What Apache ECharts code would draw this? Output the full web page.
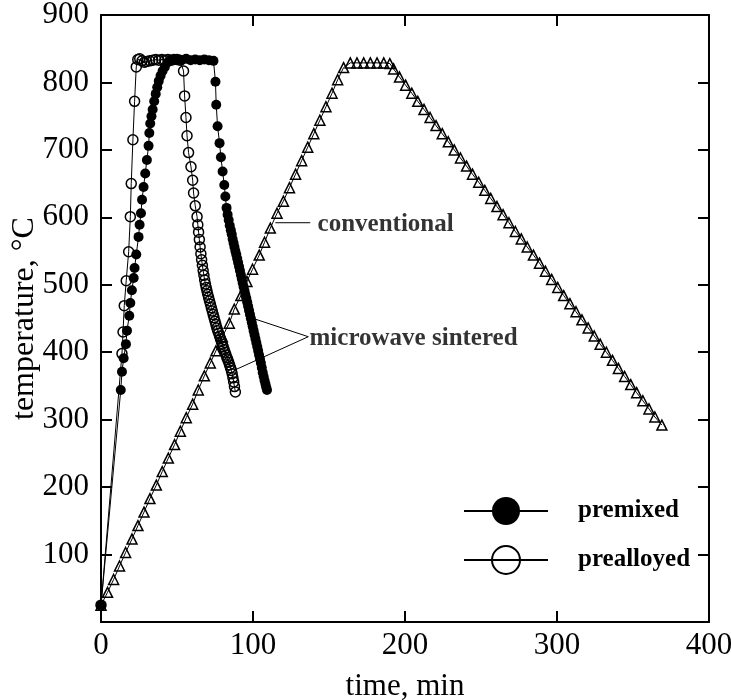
<!DOCTYPE html>
<html><head><meta charset="utf-8">
<script src="https://cdn.jsdelivr.net/npm/echarts@6/dist/echarts.min.js"></script>
<style>html,body{margin:0;padding:0;background:#fff}#c{width:731px;height:700px}</style>
</head><body><div id="c"></div>
<script>
// ---- data (time [min], temperature [°C]) ----
const xTickValues = [0, 100, 200, 300, 400];
const yTickValues = [0, 100, 200, 300, 400, 500, 600, 700, 800, 900];

const premixed = [
  [0,25],[13,344],[13.8,371],[14.9,391],[16.4,412],[17.1,432],[18.6,454],[19.3,473],[20.3,492],
  [21.5,510],[22.1,525],[23.2,545],[24.7,571],[25.4,589],[26.3,606],[27,626],[28,645],[29.1,665],
  [30.2,685],[31.3,706],[31.8,725],[32.4,739],[33.2,750],[34,760],[35,772],[36,783],[37,793],
  [38,802],[39.2,810],[40.5,817],[42,823],[44,830],[47,833],[50,834],[53,833],[56,835],[59,833],
  [62,834],[65,833],[68,834],[71,833],[74,832],
  [75.3,801],[75.8,767],[76.7,735],[78,710],[78.9,689],[80,668],[81.1,648],[81.8,631],[82.6,614],
  [83.3,604],[84,596],[84.7,588],[85.4,581],[86,575],[86.6,568],[87.2,562],[87.8,556],[88.4,550],
  [89,545],[89.6,539],[90.2,533],[90.8,527],[91.4,521],[92,515],[92.6,509],[93.2,503],[93.8,497],
  [94.4,491],[95,485],[95.6,480],[96.2,474],[96.8,468],[97.4,462],[98,456],[98.6,450],[99.2,444],
  [99.8,438],[100.4,432],[101,426],[101.6,420],[102.2,414],[102.8,408],[103.4,402],[104,396],
  [104.6,390],[105.2,384],[105.8,377],[106.4,370],[107,364],[107.6,358],[108.2,353],[108.7,348],[109.2,344]
];

const prealloyed = [
  [0,25],[13.8,398],[14.5,430],[15.3,469],[16.6,506],[18.2,549],[19.3,601],[19.9,650],[21,715],
  [22.1,772],[23.2,823],[24.2,834],[25.5,835],[27,832],[28.5,830],[30,831],[32,832],[34,833],
  [36,834],[38,833],[40,834],[42,833],[44,834],[46,833],[48,834],[50,834],[52,833],
  [54.3,817],[55,780],[55.9,748],[56.6,721],[57.6,696],[59.2,675],[60.3,655],[60.9,636],[62,617],
  [63.2,601],[63.7,589],[64.2,578],[64.7,567],[65.2,556],[65.7,546],[66.2,537],[66.7,529],[67.2,521],
  [67.7,514],[68.2,507],[68.7,501],[69.2,496],[69.7,491],[70.2,486],[70.8,481],[71.4,476],[72,471],
  [72.6,466],[73.2,461],[73.8,456],[74.4,451],[75,446],[75.6,441],[76.2,436],[76.8,432],[77.4,428],
  [78,424],[78.6,420],[79.2,416],[79.8,412],[80.4,408],[81,404],[81.6,400],[82.2,396],[82.8,392],
  [83.4,389],[84,385],[84.6,381],[85.2,377],[85.8,373],[86.3,368],[86.8,362],[87.3,356],[87.8,349],[88.4,341]
];

const conventional = [
  [0,25],[4.3,44],[8.3,63],[12.2,83],[16.2,103],[20.4,123],[24.3,143],[28.3,163],[32.2,183],
  [36.4,203],[40.3,223],[44.3,243],[48.4,263],[52.2,283],[56.1,303],[60.3,323],[64,344],[68,365],
  [71.9,384],[75.6,402],[79.8,423],[84.4,443],[87.7,464],[92,484],[96,505],[99.7,523],[104.1,544],
  [107.6,563],[111.4,584],[115.8,606],[120,624],[124,644],[128,664],[132,684],[136,704],[140,724],
  [144,744],[148,764],[152,784],[155.7,804],[159.6,822],[164,829],[168.4,829],[172.8,829],
  [177.2,829],[181.6,829],[186,829],[190,828],
  [192.5,820],[196.4,808],[200.4,796],[204.5,784],[208.4,772],[212.5,760],[216.5,748],[220.4,736],
  [224.5,724],[228.5,712],[232.4,700],[236.5,688],[240.5,676],[244.4,664],[248.5,652],[252.5,640],
  [256.4,628],[260.5,616],[264.5,604],[268.4,592],[272.6,579],[276.5,568],[280.4,556],[284.5,544],
  [288.5,532],[292.4,520],[296.5,508],[300.5,496],[304.4,484],[308.5,472],[312.5,460],[316.4,448],
  [320.5,436],[324.5,424],[328.4,412],[332.5,400],[336.5,388],[340.4,376],[344.5,364],[348.5,352],
  [352.4,340],[356.5,328],[360.5,316],[364.4,304],[369,292]
];

// annotation leaders and label anchors (data coordinates)
const convLeader = [[114.7,592],[137.7,592]];
const mwLeaderA = [[98.9,451],[136.4,423],[88.4,374]];
const annotations = [
  {text: 'conventional', at: [142.5,590]},
  {text: 'microwave sintered', at: [137.2,421]}
];

const FONT = '"Liberation Serif", "Times New Roman", serif';
const chart = echarts.init(document.getElementById('c'), null, {renderer: 'canvas'});

const axisLine = {show: true, onZero: false, lineStyle: {color: '#000', width: 2}};
const axisTick = {show: true, inside: true, length: 11, lineStyle: {color: '#000', width: 2}};

chart.setOption({
  animation: false,
  backgroundColor: '#fff',
  grid: {left: 101, right: 22, top: 15, bottom: 78, containLabel: false, outerBoundsMode: 'none'},
  legend: {
    data: ['premixed', 'prealloyed'],
    orient: 'vertical', left: 463, top: 497, padding: 0,
    itemWidth: 84, itemHeight: 35, itemGap: 20,
    textStyle: {fontFamily: FONT, fontWeight: 'bold', fontSize: 25, color: '#000', padding: [0, 0, 0, 25]},
    selectedMode: false
  },
  xAxis: [
    {type: 'value', min: 0, max: 400, interval: 100, position: 'bottom',
     name: 'time, min', nameLocation: 'middle', nameGap: 49, nameMoveOverlap: false,
     nameTextStyle: {fontFamily: FONT, fontSize: 31, color: '#000'},
     axisLine, axisTick, splitLine: {show: false},
     axisLabel: {fontFamily: FONT, fontSize: 31, color: '#000', margin: 8,
       formatter: v => xTickValues.includes(v) ? String(v) : ''}},
    {type: 'value', min: 0, max: 400, interval: 100, position: 'top',
     axisLine, axisTick, splitLine: {show: false}, axisLabel: {show: false}}
  ],
  yAxis: [
    {type: 'value', min: 0, max: 900, interval: 100, position: 'left',
     name: 'temperature, °C', nameLocation: 'middle', nameGap: 60, nameRotate: 90, nameMoveOverlap: false,
     nameTextStyle: {fontFamily: FONT, fontSize: 32, color: '#000'},
     axisLine, axisTick, splitLine: {show: false},
     axisLabel: {fontFamily: FONT, fontSize: 31, color: '#000', margin: 12,
       formatter: v => (v === 0) ? '' : (yTickValues.includes(v) ? String(v) : '')}},
    {type: 'value', min: 0, max: 900, interval: 100, position: 'right',
     axisLine, axisTick, splitLine: {show: false}, axisLabel: {show: false}}
  ],
  series: [
    {name: 'conventional', type: 'line', data: conventional, symbol: 'triangle', symbolSize: 10,
     lineStyle: {color: '#000', width: 1}, itemStyle: {color: 'rgba(0,0,0,0)', borderColor: '#000', borderWidth: 1.5},
     z: 2, silent: true},
    {name: 'prealloyed', type: 'line', data: prealloyed, symbol: 'circle', symbolSize: 10,
     lineStyle: {color: '#000', width: 1}, itemStyle: {color: 'rgba(0,0,0,0)', borderColor: '#000', borderWidth: 1.5},
     z: 3, silent: true},
    {name: 'premixed', type: 'line', data: premixed, symbol: 'circle', symbolSize: 10,
     lineStyle: {color: '#000', width: 1}, itemStyle: {color: '#000', borderColor: '#000', borderWidth: 0},
     z: 4, silent: true},
    {name: 'convLeader', type: 'line', data: convLeader, symbol: 'none',
     lineStyle: {color: '#000', width: 1}, z: 5, silent: true},
    {name: 'mwLeader', type: 'line', data: mwLeaderA, symbol: 'none',
     lineStyle: {color: '#000', width: 1}, z: 5, silent: true},
    {name: 'notes', type: 'scatter', symbolSize: 0, silent: true, z: 6,
     data: annotations.map(a => ({value: a.at, name: a.text})),
     label: {show: true, position: 'right', distance: 0, formatter: p => p.name,
       fontFamily: FONT, fontWeight: 'bold', fontSize: 25, color: '#000'}}
  ]
});
</script>
</body></html>
